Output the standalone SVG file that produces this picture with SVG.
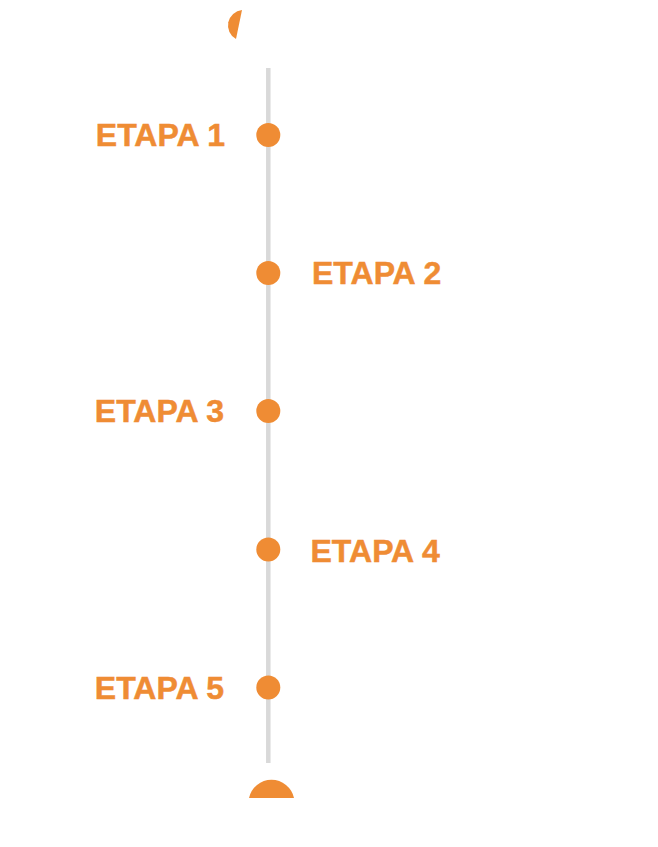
<svg xmlns="http://www.w3.org/2000/svg" width="658" height="847" viewBox="0 0 658 847">
<style>
.dot{fill:#EF8C34}
.cap{fill:#EF8C34}
.lbl{fill:#EF8C34;stroke:#EF8C34;stroke-width:0.5px;font-family:"Liberation Sans",Arial,sans-serif;font-weight:700;font-size:32px}
.l{text-anchor:end}
.r{text-anchor:start}
</style>
<rect width="658" height="847" fill="#ffffff"/>
<g id="connectors">
<line x1="268.3" y1="68" x2="268.3" y2="763" stroke="#d9d9d9" stroke-width="4.5"/>
</g>
<g id="top-cap"><path class="cap" d="M242,10 A15.5,15.5 0 0 0 236,39 Z"/></g>
<g id="bottom-cap"><path class="cap" d="M249,798 A23,23 0 0 1 294,798 Z"/></g>
<g id="etapa1"><circle class="dot" cx="268.3" cy="135" r="12"/><text class="lbl l" x="225" y="146">ETAPA 1</text></g>
<g id="etapa2"><circle class="dot" cx="268.3" cy="273" r="12"/><text class="lbl r" x="312" y="284">ETAPA 2</text></g>
<g id="etapa3"><circle class="dot" cx="268.3" cy="411" r="12"/><text class="lbl l" x="224" y="422">ETAPA 3</text></g>
<g id="etapa4"><circle class="dot" cx="268.3" cy="549.5" r="12"/><text class="lbl r" x="310.5" y="561.5">ETAPA 4</text></g>
<g id="etapa5"><circle class="dot" cx="268.3" cy="687.5" r="12"/><text class="lbl l" x="224" y="699">ETAPA 5</text></g>
</svg>
